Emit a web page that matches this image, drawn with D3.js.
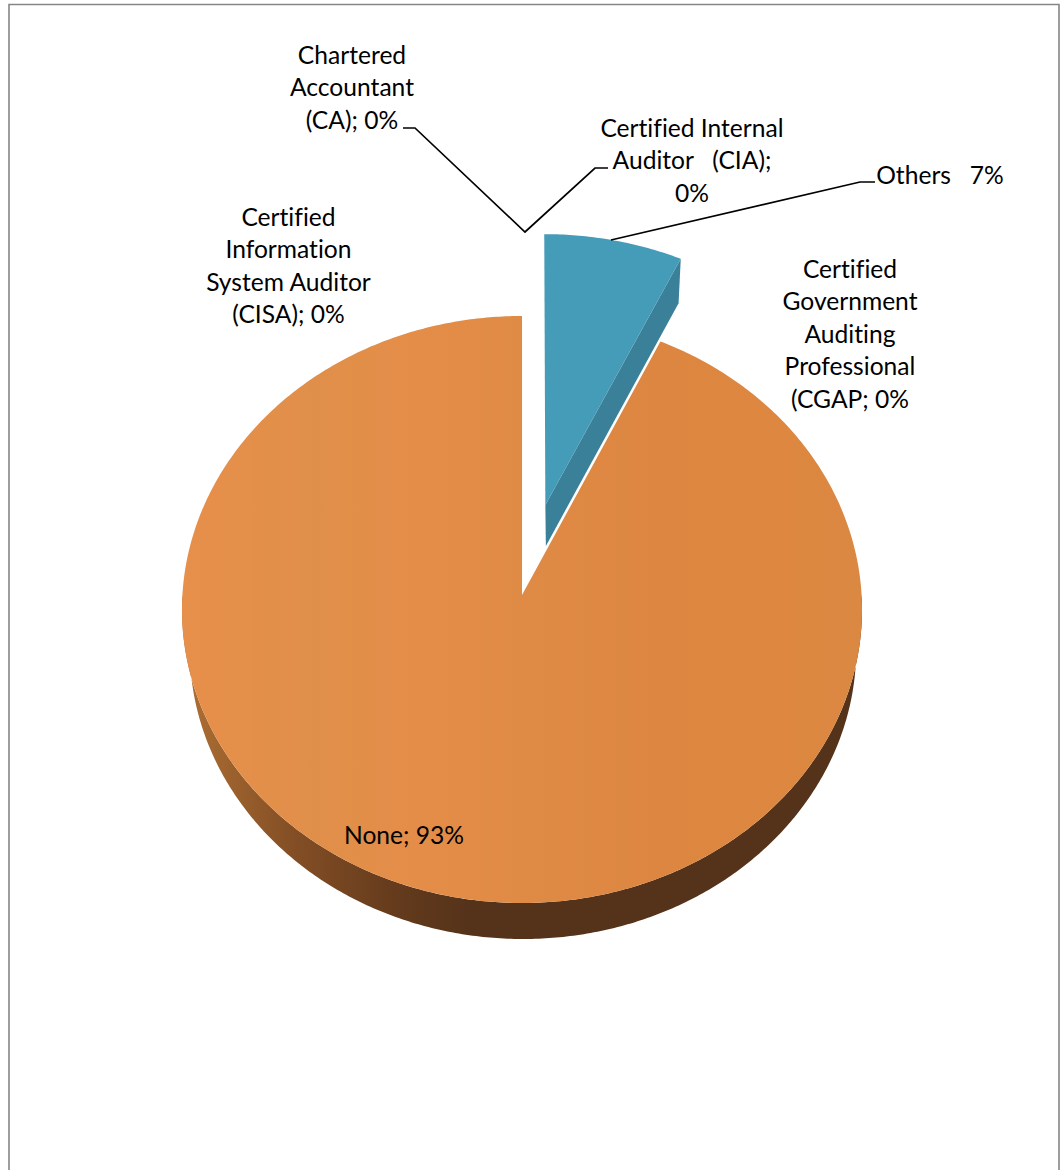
<!DOCTYPE html>
<html><head><meta charset="utf-8">
<script src="https://cdn.jsdelivr.net/npm/d3@7"></script>
<style>
html,body{margin:0;padding:0;background:#fff;overflow:hidden}
text{font-family:Lato,"Open Sans",sans-serif;font-size:24.6px;font-variant-ligatures:none;fill:#000;white-space:pre;text-anchor:middle}
</style></head><body>
<svg id="c" width="1062" height="1170"></svg>
<script>
// Data
const categories = ["Others", "Certified Government Auditing Professional (CGAP", "None", "Certified Information System Auditor (CISA)", "Chartered Accountant (CA)", "Certified Internal Auditor (CIA)"];
const values = [7, 0, 93, 0, 0, 0];
const labelLines = [
  ["Others   7%"],
  ["Certified", "Government", "Auditing", "Professional", "(CGAP; 0%"],
  ["None; 93%"],
  ["Certified", "Information", "System Auditor", "(CISA); 0%"],
  ["Chartered", "Accountant", "(CA); 0%"],
  ["Certified Internal", "Auditor   (CIA);", "0%"]
];
// Layout
const labelCentreX = [940, 850, 404, 288.5, 352, 692];
const labelFirstY  = [175, 269, 835, 217, 55, 128];
const lineStep = 32.5;
const leaders = [
  [[875,182],[860,182],[611,240]],
  [[403,128],[415,128],[525,232],[595,168],[608,168]]
];
const explodeOthers = 0.32;

const svg = d3.select("#c");
const defs = svg.append("defs");
function grad(id, x1, x2, stops){
  const g = defs.append("linearGradient").attr("id",id).attr("gradientUnits","userSpaceOnUse")
    .attr("x1",x1).attr("x2",x2).attr("y1",0).attr("y2",0);
  stops.forEach(s=>g.append("stop").attr("offset",s[0]).attr("stop-color",s[1]));
}
grad("topO",181,861,[[0,"#E78F4B"],[.2,"#E08F4A"],[.35,"#E48D49"],[.5,"#DF8A45"],[.7,"#DC8641"],[.9,"#DD8740"],[1,"#DA8842"]]);
grad("sideO",188,854,[[0,"#AC6E33"],[.16,"#834E25"],[.32,"#633A1C"],[.42,"#55331A"],[1,"#55331A"]]);

// Projection of the tilted pie plane
const cx=522, cy=595, A=339.6, a=292.8, k=0.0494;
function proj(u,v,low){
  const w=1+k*v;
  let x=A*u/w, y=a*v/w;
  if(low){ x=x*0.98+1; return [cx+x, cy-y+39.8+3.8*v]; }
  return [cx+x, cy-y];
}
const arcs = d3.pie().sort(null).value(d=>d)(values);
const line = d3.line();
function rim(s,e,ou,ov,low){
  const n=Math.max(2,Math.ceil((e-s)/0.01));
  return d3.range(n+1).map(i=>{
    const t=s+(e-s)*i/n;
    return proj(ou+Math.sin(t),ov+Math.cos(t),low);
  });
}
const g=svg.append("g");
// frame
const frame=[[9,1170],[9,4.5],[1059,4.5],[1059,1170]];
svg.insert("path",":first-child").attr("d",line(frame)).attr("fill","#fff").attr("stroke","#868686").attr("stroke-width",1.6);

const others=arcs[0], none=arcs[2];
// None slice: only the front half of the rim can be seen, then the top face
const rimFrom=d=>Math.max(d.startAngle,Math.PI/2), rimTo=d=>Math.min(d.endAngle,Math.PI*1.5);
g.append("path").datum(none)
 .attr("d",d=>line(rim(rimFrom(d),rimTo(d),0,0,false).concat(rim(rimFrom(d),rimTo(d),0,0,true).reverse()))+"Z")
 .attr("fill","url(#sideO)");
g.append("path").datum(none)
 .attr("d",d=>line([proj(0,0,false)].concat(rim(d.startAngle,d.endAngle,0,0,false)))+"Z")
 .attr("fill","url(#topO)");
// Others slice, pulled out along its mid angle
const mid=(others.startAngle+others.endAngle)/2;
const ou=explodeOthers*Math.sin(mid), ov=explodeOthers*Math.cos(mid);
const e=others.endAngle, eu=ou+Math.sin(e), ev=ov+Math.cos(e);
g.append("path").attr("d",line([proj(ou,ov,false),proj(eu,ev,false),proj(eu,ev,true),proj(ou,ov,true)])+"Z")
 .attr("fill","#3A8098");
g.append("path").datum(others)
 .attr("d",d=>line([proj(ou,ov,false)].concat(rim(d.startAngle,d.endAngle,ou,ov,false)))+"Z")
 .attr("fill","#459CB8");

// leaders
svg.append("g").selectAll("path").data(leaders).join("path")
 .attr("d",d=>line(d)).attr("fill","none").attr("stroke","#000").attr("stroke-width",1.7);
// labels
labelLines.forEach((ls,i)=>{
  ls.forEach((t,j)=>{
    svg.append("text").attr("x",labelCentreX[i]).attr("y",labelFirstY[i]+j*lineStep)
      .attr("dy","0.35em").text(t);
  });
});
</script></body></html>
